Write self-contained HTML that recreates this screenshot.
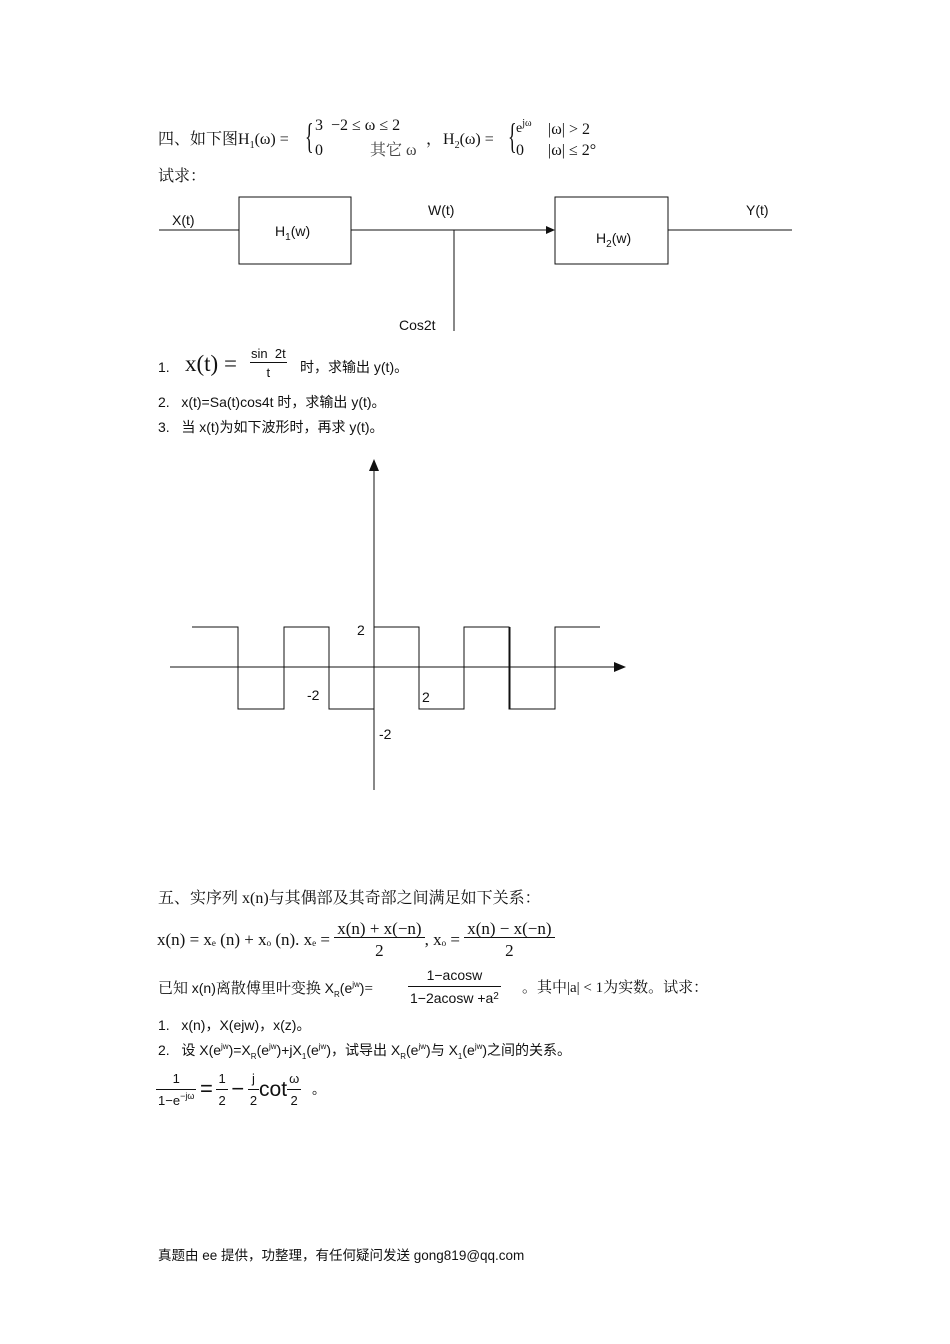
<!DOCTYPE html>
<html><head><meta charset="utf-8"><style>
body{margin:0;background:#fff;width:950px;height:1344px;position:relative;font-family:"Liberation Sans","Noto Sans CJK SC",sans-serif;color:#111}
.t{position:absolute;white-space:nowrap;font-size:14px;line-height:1}
.s{font-family:"Liberation Serif","Noto Serif CJK SC",serif;font-size:16px}
.fr{display:inline-block;text-align:center;vertical-align:middle}
.fr>span{display:block;padding:0 2px}
.fr>.n{border-bottom:1px solid #111}
.sb{font-size:10px;position:relative;top:4px}
.sp{font-size:10px;position:relative;top:-6px}
</style></head><body>
<div class="t s" style="left:158px;top:132px">四、如下图H<span class="sb">1</span>(ω) =</div>
<div class="t s" style="left:305px;top:118px;font-size:36px;transform:scaleX(0.5);transform-origin:left">{</div>
<div class="t s" style="left:315px;top:118px">3 &nbsp;−2 ≤ ω ≤ 2</div>
<div class="t s" style="left:315px;top:143px">0</div>
<div class="t s" style="left:370px;top:143px;color:#444">其它 ω</div>
<div class="t s" style="left:426px;top:132px">，</div>
<div class="t s" style="left:443px;top:132px">H<span class="sb">2</span>(ω) =</div>
<div class="t s" style="left:508px;top:118px;font-size:36px;transform:scaleX(0.5);transform-origin:left">{</div>
<div class="t s" style="left:516px;top:122px;font-size:14px">e<span class="sp">jω</span></div>
<div class="t s" style="left:548px;top:122px">|ω| &gt; 2</div>
<div class="t s" style="left:516px;top:143px">0</div>
<div class="t s" style="left:548px;top:143px">|ω| ≤ 2°</div>
<div class="t s" style="left:158px;top:169px">试求：</div>

<svg width="950" height="1344" style="position:absolute;left:0;top:0" xmlns="http://www.w3.org/2000/svg">
<g stroke="#111" stroke-width="1" fill="none">
<line x1="159" y1="230" x2="239" y2="230"/>
<rect x="239" y="197" width="112" height="67"/>
<line x1="351" y1="230" x2="550" y2="230"/>
<rect x="555" y="197" width="113" height="67"/>
<line x1="668" y1="230" x2="792" y2="230"/>
<line x1="454" y1="230" x2="454" y2="331"/>
<line x1="170" y1="667" x2="618" y2="667"/>
<line x1="374" y1="468" x2="374" y2="790"/>
<polyline points="192,627 238,627 238,709 284,709 284,627 329,627 329,709 374,709 374,627 419,627 419,709 464,709 464,627 509,627 509,709 555,709 555,627 600,627"/>
<line x1="509.5" y1="627" x2="509.5" y2="709" stroke-width="2"/>
</g>
<polygon points="555,230 546,226 546,234" fill="#111"/>
<polygon points="626,667 614,662 614,672" fill="#111"/>
<polygon points="374,459 369,471 379,471" fill="#111"/>
</svg>
<div class="t" style="left:172px;top:213px">X(t)</div>
<div class="t" style="left:275px;top:224px">H<span class="sb">1</span>(w)</div>
<div class="t" style="left:428px;top:203px">W(t)</div>
<div class="t" style="left:746px;top:203px">Y(t)</div>
<div class="t" style="left:596px;top:231px">H<span class="sb">2</span>(w)</div>
<div class="t" style="left:399px;top:318px">Cos2t</div>

<div class="t" style="left:158px;top:360px">1.</div>
<div class="t s" style="left:185px;top:352px;font-size:23px">x(t) =</div>
<div class="t" style="left:250px;top:347px;font-size:13px"><span class="fr"><span class="n" style="padding:0 1px 2px">sin&nbsp;&nbsp;2t</span><span style="padding-top:3px">t</span></span></div>
<div class="t" style="left:300px;top:360px">时，求输出 y(t)。</div>
<div class="t" style="left:158px;top:395px">2.&nbsp;&nbsp;&nbsp;x(t)=Sa(t)cos4t 时，求输出 y(t)。</div>
<div class="t" style="left:158px;top:420px">3.&nbsp;&nbsp;&nbsp;当 x(t)为如下波形时，再求 y(t)。</div>

<div class="t" style="left:357px;top:623px">2</div>
<div class="t" style="left:307px;top:688px">-2</div>
<div class="t" style="left:422px;top:690px">2</div>
<div class="t" style="left:379px;top:727px">-2</div>

<div class="t s" style="left:158px;top:891px">五、实序列 x(n)与其偶部及其奇部之间满足如下关系：</div>
<div class="t s" style="left:157px;top:918px;font-size:17px;display:flex;align-items:center;height:42px">x(n) = x<span class="sb" style="font-size:9px">e</span>&nbsp;(n) + x<span class="sb" style="font-size:9px">o</span>&nbsp;(n). x<span class="sb" style="font-size:9px">e</span>&nbsp;=&nbsp;<span class="fr"><span class="n" style="padding:0 3px">x(n) + x(−n)</span><span style="padding-top:4px">2</span></span>, x<span class="sb" style="font-size:9px">o</span>&nbsp;=&nbsp;<span class="fr"><span class="n" style="padding:0 3px">x(n) − x(−n)</span><span style="padding-top:4px">2</span></span></div>
<div class="t s" style="left:158px;top:981px;font-size:15px">已知 <span style="font-family:'Liberation Sans',sans-serif;font-size:14px">x(n)</span>离散傅里叶变换 <span style="font-family:'Liberation Sans',sans-serif;font-size:14px">X<span class="sb" style="font-size:8px">R</span>(e<span class="sp" style="font-size:8px">jw</span>)</span>=</div>
<div class="t" style="left:408px;top:968px;font-size:14px"><span class="fr"><span class="n" style="padding:0 2px 4px">1−acosw</span><span style="padding-top:4px">1−2acosw +a<span class="sp" style="font-size:10px;top:-4px">2</span></span></span></div>
<div class="t s" style="left:522px;top:981px;font-size:15px">。其中|a| &lt; 1为实数。试求：</div>
<div class="t" style="left:158px;top:1018px">1.&nbsp;&nbsp;&nbsp;x(n)，X(ejw)，x(z)。</div>
<div class="t" style="left:158px;top:1043px">2.&nbsp;&nbsp;&nbsp;设 X(e<span class="sp" style="font-size:8px">jw</span>)=X<span class="sb" style="font-size:8px">R</span>(e<span class="sp" style="font-size:8px">jw</span>)+jX<span class="sb" style="font-size:8px">1</span>(e<span class="sp" style="font-size:8px">jw</span>)，试导出 X<span class="sb" style="font-size:8px">R</span>(e<span class="sp" style="font-size:8px">jw</span>)与 X<span class="sb" style="font-size:8px">1</span>(e<span class="sp" style="font-size:8px">jw</span>)之间的关系。</div>
<div class="t" style="left:156px;top:1066px;display:flex;align-items:center;height:46px;font-size:13px"><span class="fr"><span class="n" style="padding:0 2px 4px">1</span><span style="padding-top:4px">1−e<span class="sp" style="font-size:9px">−jω</span></span></span>&nbsp;<span style="font-size:22px">=</span>&nbsp;<span class="fr"><span class="n" style="padding:0 2px 4px">1</span><span style="padding-top:4px">2</span></span>&nbsp;<span style="font-size:22px">−</span>&nbsp;<span class="fr"><span class="n" style="padding:0 2px 4px">j</span><span style="padding-top:4px">2</span></span><span style="font-size:21px">cot</span><span class="fr"><span class="n" style="padding:0 2px 4px">ω</span><span style="padding-top:4px">2</span></span>&nbsp;&nbsp;&nbsp;。</div>

<div class="t" style="left:158px;top:1249px;font-size:13.5px">真题由 ee 提供，功整理，有任何疑问发送 gong819@qq.com</div>
</body></html>
